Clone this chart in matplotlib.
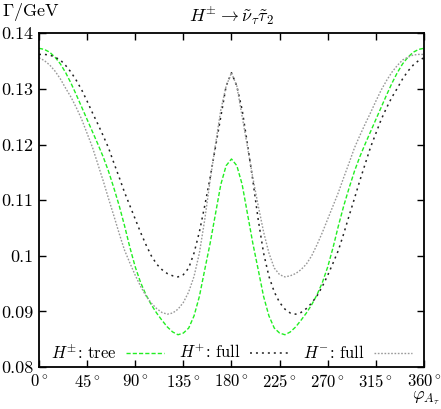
import numpy as np
import matplotlib
matplotlib.use("Agg")
import matplotlib.pyplot as plt

plt.rcParams['font.family'] = ['cmr10', 'DejaVu Serif']
plt.rcParams['mathtext.fontset'] = 'cm'
plt.rcParams['axes.unicode_minus'] = False

# angle grid (degrees) and widths (GeV)
phi = np.arange(0, 361, 5)

tree = [0.1373, 0.1371, 0.1366, 0.1357, 0.1345, 0.1329, 0.1310, 0.1289, 0.1267, 0.1245,
        0.1223, 0.1201, 0.1178, 0.1152, 0.1122, 0.1090, 0.1054, 0.1015, 0.0980, 0.0952,
        0.0930, 0.0912, 0.0897, 0.0884, 0.0872, 0.0863, 0.0858, 0.0861, 0.0870, 0.0892,
        0.0927, 0.0975, 0.1022, 0.1075, 0.1128, 0.1162, 0.1174,
        0.1162, 0.1128, 0.1075, 0.1022, 0.0975, 0.0927, 0.0892, 0.0870, 0.0861, 0.0858,
        0.0863, 0.0872, 0.0884, 0.0897, 0.0912, 0.0930, 0.0952, 0.0980, 0.1015, 0.1054,
        0.1090, 0.1122, 0.1152, 0.1178, 0.1201, 0.1223, 0.1245, 0.1267, 0.1289, 0.1310,
        0.1329, 0.1345, 0.1357, 0.1366, 0.1371, 0.1373]

h_plus = [0.1362, 0.1362, 0.1361, 0.1357, 0.1352, 0.1342, 0.1330, 0.1315, 0.1298, 0.1278,
          0.1257, 0.1237, 0.1216, 0.1194, 0.1167, 0.1141, 0.1114, 0.1090, 0.1066, 0.1042,
          0.1020, 0.1000, 0.0985, 0.0975, 0.0968, 0.0964, 0.0962, 0.0966, 0.0978, 0.1005,
          0.1043, 0.1090, 0.1140, 0.1195, 0.1250, 0.1305, 0.1329,
          0.1305, 0.1262, 0.1200, 0.1135, 0.1065, 0.1005, 0.0963, 0.0935, 0.0916, 0.0904,
          0.0897, 0.0895, 0.0898, 0.0905, 0.0915, 0.0928, 0.0945, 0.0965, 0.0987, 0.1010,
          0.1040, 0.1072, 0.1103, 0.1135, 0.1165, 0.1195, 0.1220, 0.1245, 0.1266, 0.1285,
          0.1301, 0.1318, 0.1332, 0.1343, 0.1351, 0.1356]

h_minus = [0.1356, 0.1351, 0.1343, 0.1332, 0.1318, 0.1301, 0.1285, 0.1266, 0.1245, 0.1220,
           0.1195, 0.1165, 0.1135, 0.1103, 0.1072, 0.1040, 0.1010, 0.0987, 0.0965, 0.0945,
           0.0928, 0.0915, 0.0905, 0.0898, 0.0895, 0.0897, 0.0904, 0.0916, 0.0935, 0.0963,
           0.1005, 0.1065, 0.1135, 0.1200, 0.1262, 0.1305, 0.1329,
           0.1305, 0.1250, 0.1195, 0.1140, 0.1090, 0.1043, 0.1005, 0.0978, 0.0966, 0.0962,
           0.0964, 0.0968, 0.0975, 0.0985, 0.1000, 0.1020, 0.1042, 0.1066, 0.1090, 0.1114,
           0.1141, 0.1167, 0.1194, 0.1216, 0.1237, 0.1257, 0.1278, 0.1298, 0.1315, 0.1330,
           0.1342, 0.1352, 0.1357, 0.1361, 0.1362, 0.1362]

xticks = [0, 45, 90, 135, 180, 225, 270, 315, 360]
yticks = [0.08, 0.09, 0.10, 0.11, 0.12, 0.13, 0.14]
ytick_labels = ['0.08', '0.09', '0.1', '0.11', '0.12', '0.13', '0.14']

fig = plt.figure(figsize=(4.41, 4.09), dpi=100)
ax = fig.add_axes([0.0884, 0.1027, 0.873, 0.8159])

ax.plot(phi, tree, color='#22ee22', lw=1.0, linestyle=(0, (3, 1.5)),
        label=r'$H^{\pm}$: tree')
ax.plot(phi, h_plus, color='#222222', lw=1.1, linestyle=(0, (1.3, 2.6)),
        label=r'$H^{+}$: full')
ax.plot(phi, h_minus, color='#999999', lw=1.0, linestyle=(0, (1.2, 1.2)),
        label=r'$H^{-}$: full')

ax.set_xlim(0, 360)
ax.set_ylim(0.08, 0.14)
ax.set_xticks(xticks)
ax.set_xticklabels([r'$%d^\circ$' % t for t in xticks])
ax.set_yticks(yticks)
ax.set_yticklabels(ytick_labels)
ax.tick_params(direction='in', top=True, right=True, length=5, width=1, pad=4)
ax.tick_params(axis='x', labelsize=12)
ax.tick_params(axis='y', labelsize=13)
for s in ax.spines.values():
    s.set_linewidth(1.3)

fig.text(0.525, 0.962, r'$H^{\pm} \to \tilde{\nu}_{\tau}\tilde{\tau}_2$',
         fontsize=13, va='center', ha='center')
fig.text(0.005, 0.97, r'$\Gamma/\mathrm{GeV}$', fontsize=13, va='center', ha='left')
fig.text(0.997, 0.027, r'$\varphi_{A_\tau}$', fontsize=13, va='center', ha='right')

ax.legend(loc='lower center', bbox_to_anchor=(0.5, -0.028), ncol=3, frameon=False,
          markerfirst=False, fontsize=12, handlelength=2.3, handletextpad=0.55,
          columnspacing=0.9)

fig.savefig('out.png', dpi=100)
